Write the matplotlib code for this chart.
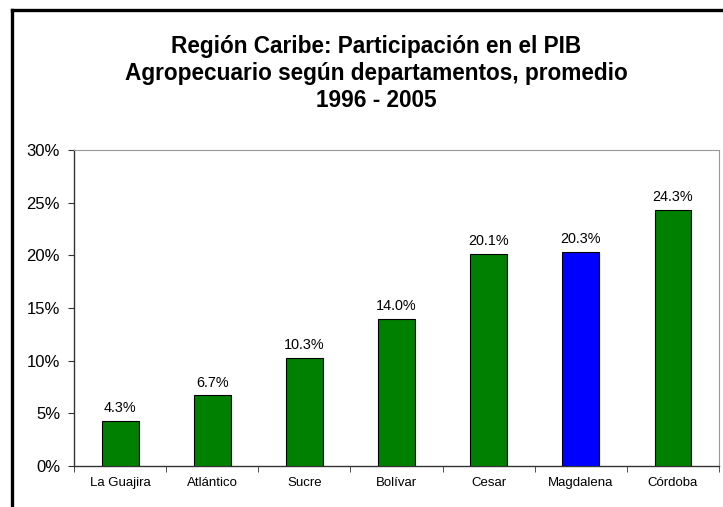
import matplotlib
matplotlib.use("Agg")
import matplotlib.pyplot as plt
from matplotlib.lines import Line2D

plt.rcParams['font.family'] = ['Liberation Sans', 'DejaVu Sans']

categories = ["La Guajira", "Atlántico", "Sucre", "Bolívar", "Cesar", "Magdalena", "Córdoba"]
values = [4.3, 6.7, 10.3, 14.0, 20.1, 20.3, 24.3]
colors = ["#008000", "#008000", "#008000", "#008000", "#008000", "#0000FF", "#008000"]
yticks = [0, 5, 10, 15, 20, 25, 30]
title = "Región Caribe: Participación en el PIB\nAgropecuario según departamentos, promedio\n1996 - 2005"

W, H = 723, 507
fig = plt.figure(figsize=(W / 100, H / 100), dpi=100)
ax = fig.add_axes([74 / W, 1 - 466 / H, (719 - 74) / W, (466 - 150) / H])

x = list(range(len(categories)))
ax.bar(x, values, width=0.4, color=colors, edgecolor="black", linewidth=0.8, zorder=3)
for xi, v in zip(x, values):
    ax.text(xi, v + 0.55, f"{v:.1f}%", ha="center", va="bottom", fontsize=10.4)

ax.set_xlim(-0.5, len(categories) - 0.5)
ax.set_ylim(0, 30)
ax.set_yticks(yticks)
ax.set_yticklabels([f"{t}%" for t in yticks], fontsize=12)
ax.set_xticks(x)
ax.set_xticklabels(categories, fontsize=9.5)
ax.tick_params(axis="x", length=0, pad=8)
ax.set_xticks([i - 0.5 for i in range(len(categories) + 1)], minor=True)
ax.tick_params(axis="x", which="minor", length=4, direction="out", color="#333333")
ax.tick_params(axis="y", length=4, direction="out", color="#333333", pad=6)

for s in ["left", "bottom"]:
    ax.spines[s].set_color("#333333")
    ax.spines[s].set_linewidth(1.0)
for s in ["top", "right"]:
    ax.spines[s].set_color("#999999")
    ax.spines[s].set_linewidth(0.8)

fig.text(376 / W, 1 - 35 / H, title, ha="center", va="top", fontsize=16.3,
         fontweight="bold", linespacing=1.23)

# outer black frame (top and left visible)
fig.add_artist(Line2D([11.5 / W, 11.5 / W], [0, 1 - 9.5 / H], transform=fig.transFigure,
                      color="black", linewidth=2.4, solid_capstyle="projecting"))
fig.add_artist(Line2D([11.5 / W, 1], [1 - 9.5 / H, 1 - 9.5 / H], transform=fig.transFigure,
                      color="black", linewidth=2.4, solid_capstyle="projecting"))

fig.savefig("out.png", dpi=100)
